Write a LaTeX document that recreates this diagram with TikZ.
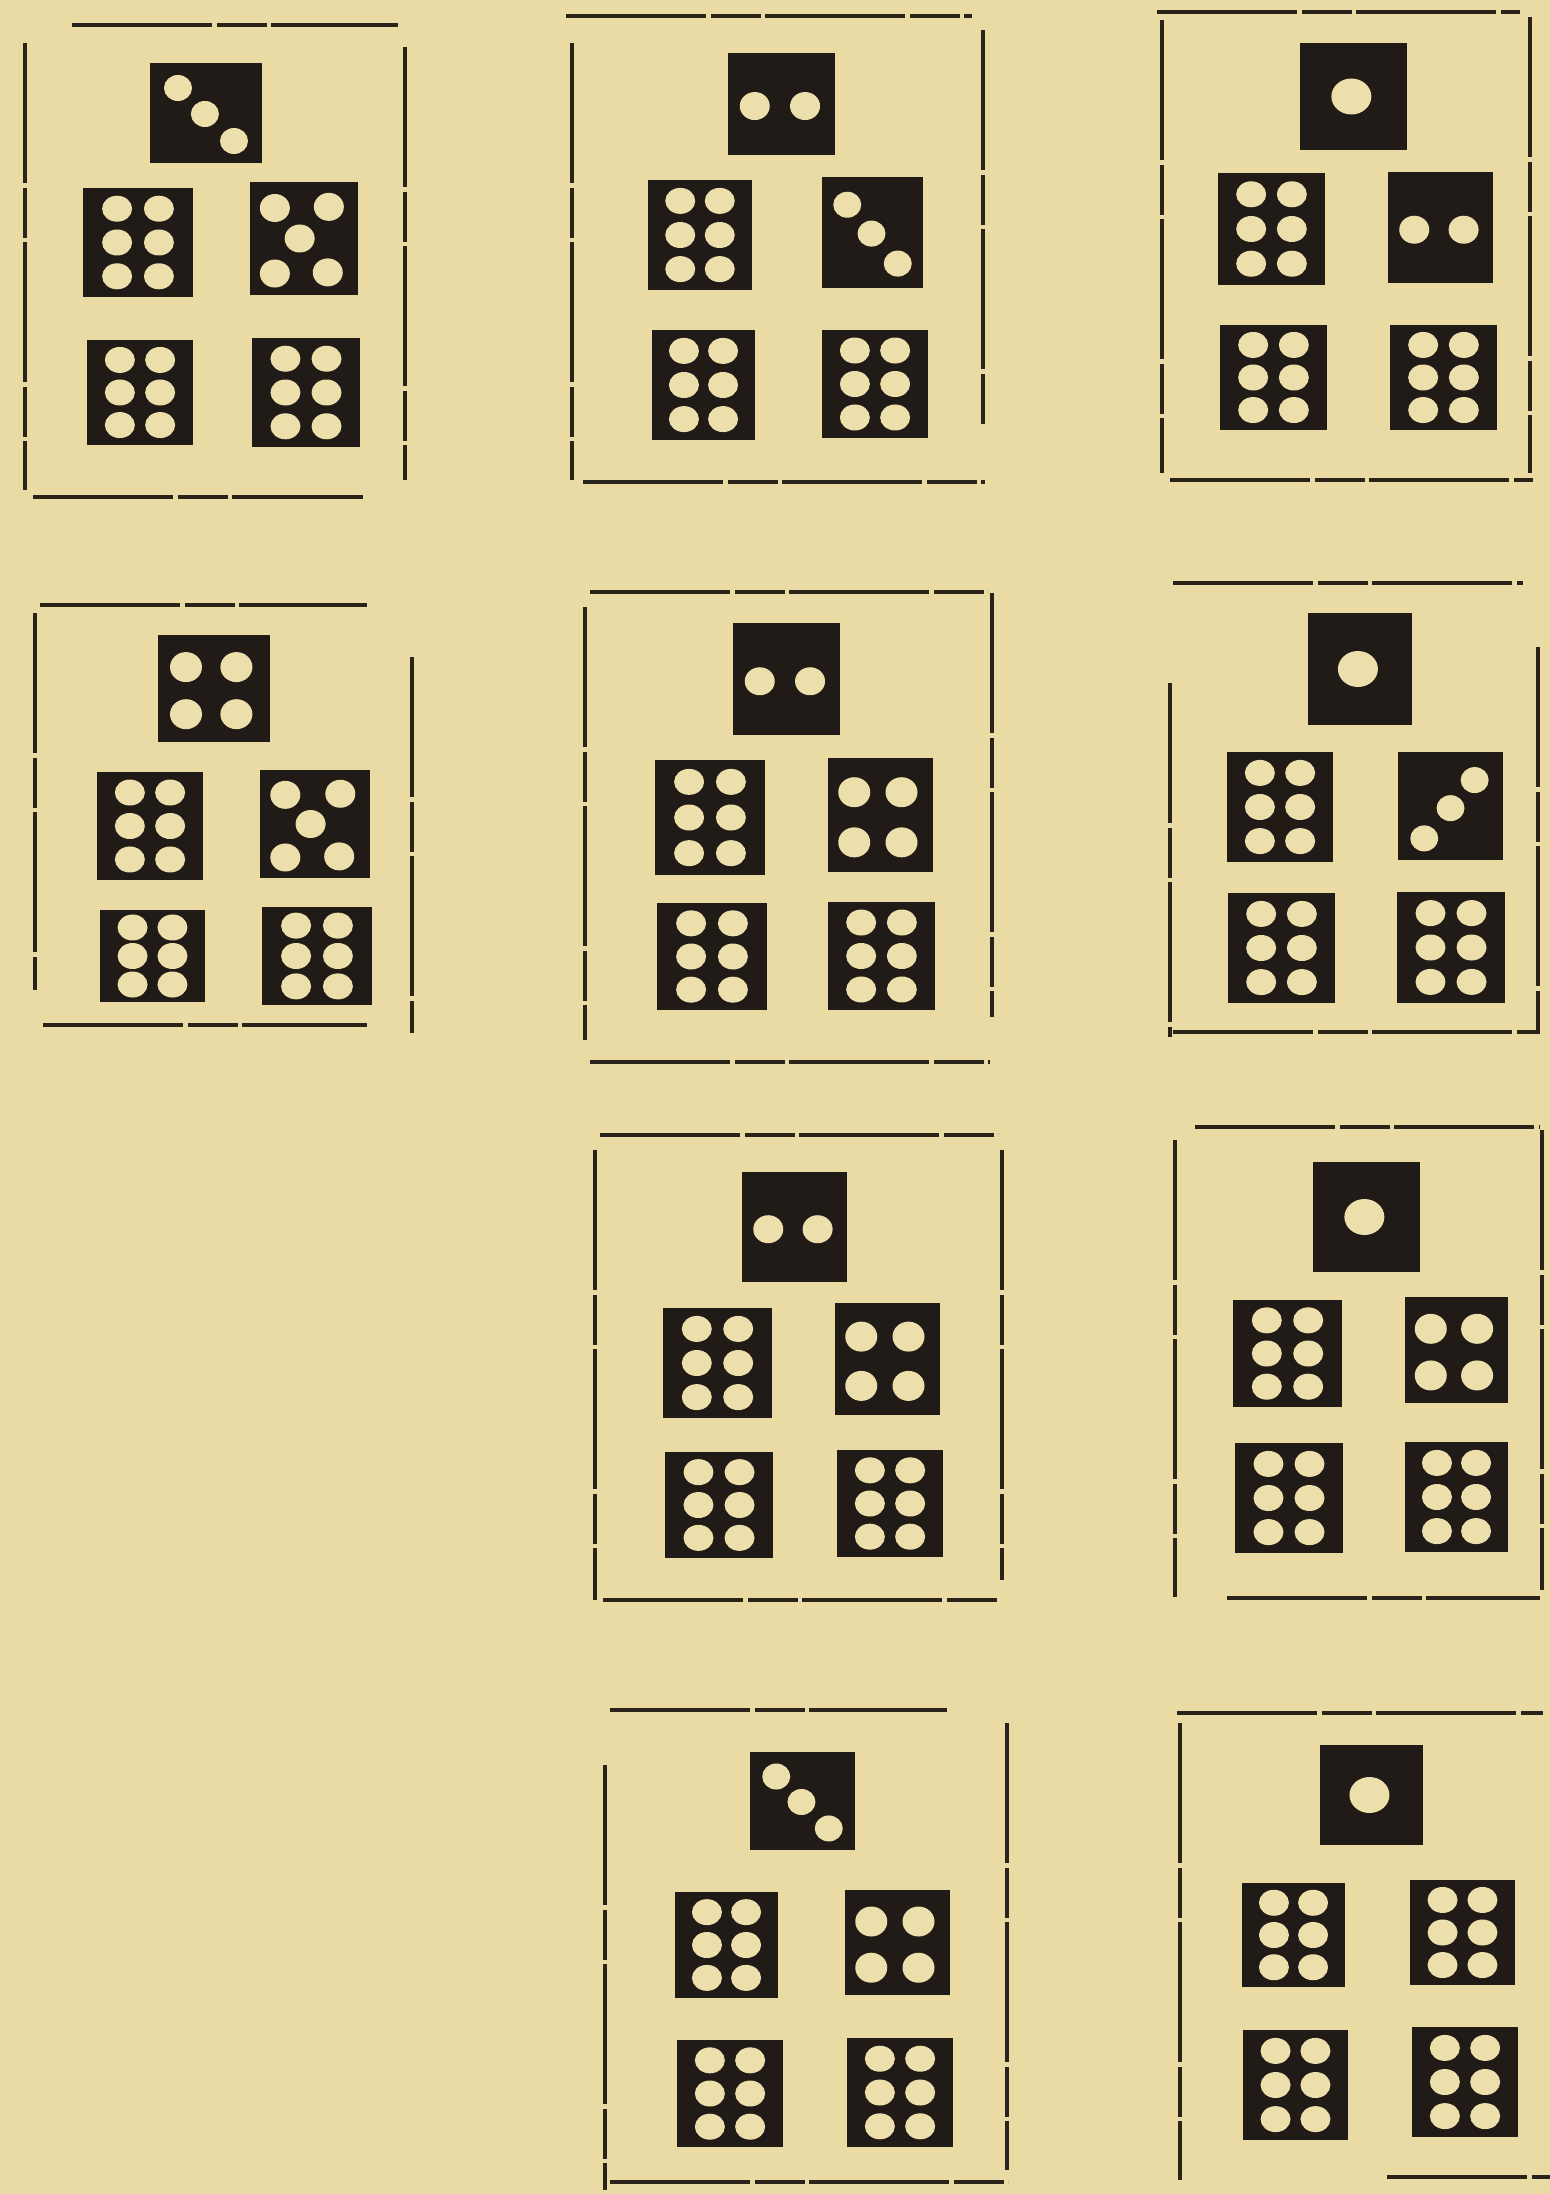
\documentclass[tikz,border=0pt]{standalone}
\usepackage{tikz}
\definecolor{paper}{RGB}{234,218,163}
\definecolor{ink}{RGB}{32,27,22}
\definecolor{pipc}{RGB}{236,223,172}
\definecolor{rule}{RGB}{42,35,26}
\tikzset{
  frameline/.style={draw=rule, line width=1.9pt, dash pattern=on 70pt off 2.5pt on 25pt off 2pt},
  tilefill/.style={fill=ink},
  pipfill/.style={fill=pipc}
}
\def\pipRx{14}\def\pipRy{12}
\newcommand\pipat[6]{\fill[pipfill] ({#1+(#3-#1)*#5},{#2+(#4-#2)*#6}) ellipse [x radius=\pipRx, y radius=\pipRy];}
\newcommand\pone[4]{\def\pipRx{20}\def\pipRy{18}\pipat{#1}{#2}{#3}{#4}{0.48}{0.5}}
\newcommand\ptwo[4]{\def\pipRx{15}\def\pipRy{14}\pipat{#1}{#2}{#3}{#4}{0.25}{0.52}\pipat{#1}{#2}{#3}{#4}{0.72}{0.52}}
\newcommand\pthree[4]{\def\pipRx{14}\def\pipRy{13}\pipat{#1}{#2}{#3}{#4}{0.25}{0.25}\pipat{#1}{#2}{#3}{#4}{0.49}{0.51}\pipat{#1}{#2}{#3}{#4}{0.75}{0.78}}
\newcommand\pthreeb[4]{\def\pipRx{14}\def\pipRy{13}\pipat{#1}{#2}{#3}{#4}{0.73}{0.26}\pipat{#1}{#2}{#3}{#4}{0.5}{0.52}\pipat{#1}{#2}{#3}{#4}{0.25}{0.8}}
\newcommand\pfour[4]{\def\pipRx{16}\def\pipRy{15}\pipat{#1}{#2}{#3}{#4}{0.25}{0.3}\pipat{#1}{#2}{#3}{#4}{0.7}{0.3}\pipat{#1}{#2}{#3}{#4}{0.25}{0.74}\pipat{#1}{#2}{#3}{#4}{0.7}{0.74}}
\newcommand\pfive[4]{\def\pipRx{15}\def\pipRy{14}\pipat{#1}{#2}{#3}{#4}{0.23}{0.23}\pipat{#1}{#2}{#3}{#4}{0.73}{0.22}\pipat{#1}{#2}{#3}{#4}{0.46}{0.5}\pipat{#1}{#2}{#3}{#4}{0.23}{0.81}\pipat{#1}{#2}{#3}{#4}{0.72}{0.8}}
\newcommand\psix[4]{\def\pipRx{15}\def\pipRy{13}%
  \pipat{#1}{#2}{#3}{#4}{0.31}{0.19}\pipat{#1}{#2}{#3}{#4}{0.69}{0.19}%
  \pipat{#1}{#2}{#3}{#4}{0.31}{0.5}\pipat{#1}{#2}{#3}{#4}{0.69}{0.5}%
  \pipat{#1}{#2}{#3}{#4}{0.31}{0.81}\pipat{#1}{#2}{#3}{#4}{0.69}{0.81}}
\newcommand\dtile[5]{\fill[tilefill] (#1,#2) rectangle (#3,#4); #5{#1}{#2}{#3}{#4}}
\begin{document}
\begin{tikzpicture}[x=0.5pt,y=-0.5pt]
\fill[paper] (0,0) rectangle (1550,2194);
\useasboundingbox (0,0) rectangle (1550,2194);

% ---------- Panel A ----------
\draw[frameline] (72,25) -- (398,25);
\draw[frameline] (25,43) -- (25,490);
\draw[frameline] (33,497) -- (363,497);
\draw[frameline] (405,47) -- (405,480);
\dtile{150}{63}{262}{163}{\pthree}
\dtile{83}{188}{193}{297}{\psix}
\dtile{250}{182}{358}{295}{\pfive}
\dtile{87}{340}{193}{445}{\psix}
\dtile{252}{338}{360}{447}{\psix}

% ---------- Panel B ----------
\draw[frameline] (566,16) -- (972,16);
\draw[frameline] (572,43) -- (572,480);
\draw[frameline] (583,482) -- (985,482);
\draw[frameline] (983,30) -- (983,427);
\dtile{728}{53}{835}{155}{\ptwo}
\dtile{648}{180}{752}{290}{\psix}
\dtile{822}{177}{923}{288}{\pthree}
\dtile{652}{330}{755}{440}{\psix}
\dtile{822}{330}{928}{438}{\psix}

% ---------- Panel C ----------
\draw[frameline] (1157,12) -- (1520,12);
\draw[frameline] (1162,20) -- (1162,473);
\draw[frameline] (1170,480) -- (1533,480);
\draw[frameline] (1530,17) -- (1530,473);
\dtile{1300}{43}{1407}{150}{\pone}
\dtile{1218}{173}{1325}{285}{\psix}
\dtile{1388}{172}{1493}{283}{\ptwo}
\dtile{1220}{325}{1327}{430}{\psix}
\dtile{1390}{325}{1497}{430}{\psix}

% ---------- Panel D ----------
\draw[frameline] (40,605) -- (367,605);
\draw[frameline] (35,613) -- (35,990);
\draw[frameline] (43,1025) -- (367,1025);
\draw[frameline] (412,657) -- (412,1033);
\dtile{158}{635}{270}{742}{\pfour}
\dtile{97}{772}{203}{880}{\psix}
\dtile{260}{770}{370}{878}{\pfive}
\dtile{100}{910}{205}{1002}{\psix}
\dtile{262}{907}{372}{1005}{\psix}

% ---------- Panel E ----------
\draw[frameline] (590,592) -- (988,592);
\draw[frameline] (585,607) -- (585,1040);
\draw[frameline] (590,1062) -- (990,1062);
\draw[frameline] (992,593) -- (992,1017);
\dtile{733}{623}{840}{735}{\ptwo}
\dtile{655}{760}{765}{875}{\psix}
\dtile{828}{758}{933}{872}{\pfour}
\dtile{657}{903}{767}{1010}{\psix}
\dtile{828}{902}{935}{1010}{\psix}

% ---------- Panel F ----------
\draw[frameline] (1173,583) -- (1523,583);
\draw[frameline] (1170,683) -- (1170,1037);
\draw[frameline] (1173,1032) -- (1540,1032);
\draw[frameline] (1538,647) -- (1538,1033);
\dtile{1308}{613}{1412}{725}{\pone}
\dtile{1227}{752}{1333}{862}{\psix}
\dtile{1398}{752}{1503}{860}{\pthreeb}
\dtile{1228}{893}{1335}{1003}{\psix}
\dtile{1397}{892}{1505}{1003}{\psix}

% ---------- Panel G ----------
\draw[frameline] (600,1135) -- (998,1135);
\draw[frameline] (595,1150) -- (595,1600);
\draw[frameline] (603,1600) -- (998,1600);
\draw[frameline] (1002,1150) -- (1002,1580);
\dtile{742}{1172}{847}{1282}{\ptwo}
\dtile{663}{1308}{772}{1418}{\psix}
\dtile{835}{1303}{940}{1415}{\pfour}
\dtile{665}{1452}{773}{1558}{\psix}
\dtile{837}{1450}{943}{1557}{\psix}

% ---------- Panel H ----------
\draw[frameline] (1195,1127) -- (1540,1127);
\draw[frameline] (1175,1140) -- (1175,1597);
\draw[frameline] (1227,1598) -- (1540,1598);
\draw[frameline] (1542,1130) -- (1542,1590);
\dtile{1313}{1162}{1420}{1272}{\pone}
\dtile{1233}{1300}{1342}{1407}{\psix}
\dtile{1405}{1297}{1508}{1403}{\pfour}
\dtile{1235}{1443}{1343}{1553}{\psix}
\dtile{1405}{1442}{1508}{1552}{\psix}

% ---------- Panel I ----------
\draw[frameline] (610,1710) -- (947,1710);
\draw[frameline] (605,1765) -- (605,2190);
\draw[frameline] (610,2182) -- (1008,2182);
\draw[frameline] (1007,1723) -- (1007,2170);
\dtile{750}{1752}{855}{1850}{\pthree}
\dtile{675}{1892}{778}{1998}{\psix}
\dtile{845}{1890}{950}{1995}{\pfour}
\dtile{677}{2040}{783}{2147}{\psix}
\dtile{847}{2038}{953}{2147}{\psix}

% ---------- Panel J ----------
\draw[frameline] (1177,1713) -- (1543,1713);
\draw[frameline] (1180,1723) -- (1180,2180);
\draw[frameline] (1387,2177) -- (1550,2177);
\dtile{1320}{1745}{1423}{1845}{\pone}
\dtile{1242}{1883}{1345}{1987}{\psix}
\dtile{1410}{1880}{1515}{1985}{\psix}
\dtile{1243}{2030}{1348}{2140}{\psix}
\dtile{1412}{2027}{1518}{2137}{\psix}
\end{tikzpicture}
\end{document}
